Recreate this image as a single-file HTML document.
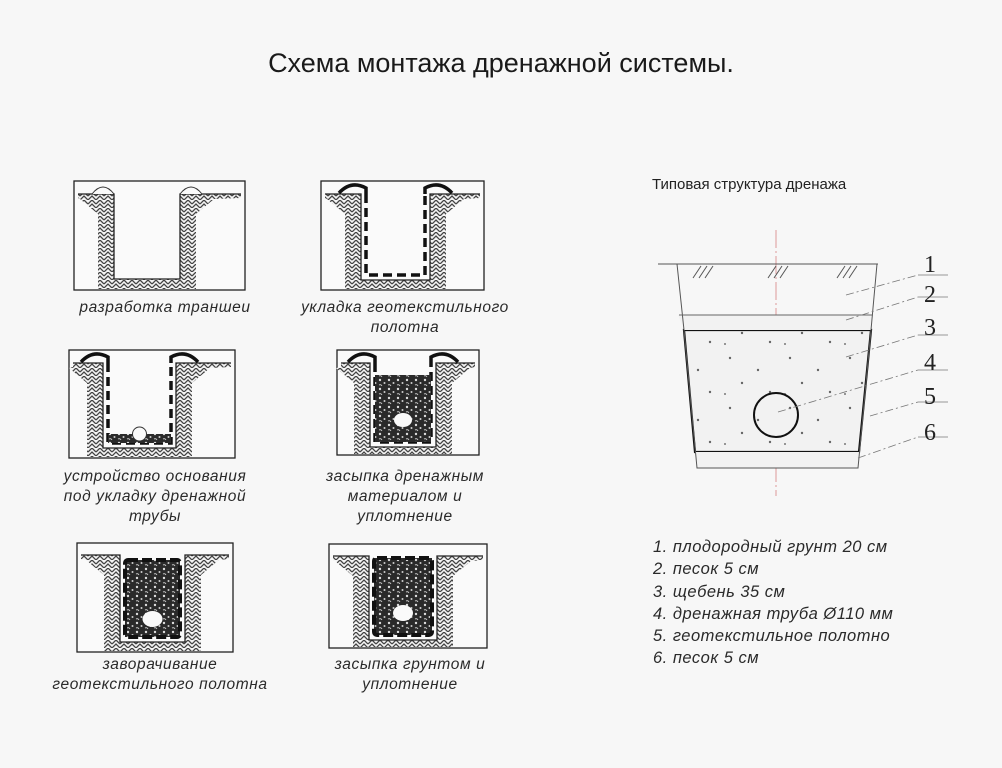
<!DOCTYPE html>
<html><head><meta charset="utf-8"><style>
html,body{margin:0;padding:0;background:#f7f7f7;}
body{width:1002px;height:768px;overflow:hidden;position:relative;font-family:"Liberation Sans",sans-serif;}
.t{position:absolute;left:0;width:1002px;top:48px;text-align:center;font-size:27px;color:#1a1a1a;}
.c{position:absolute;font-style:italic;font-size:15.5px;color:#2a2a2a;text-align:center;line-height:20px;letter-spacing:0.6px;}
.lg{position:absolute;left:653px;top:536px;font-style:italic;font-size:16.5px;color:#2a2a2a;line-height:22.3px;letter-spacing:0.5px;}
.h{position:absolute;left:652px;top:176px;font-size:15px;color:#222;}
svg{position:absolute;left:0;top:0;}
</style></head><body>
<div class="t">Схема монтажа дренажной системы.</div>
<svg id="s" width="1002" height="768" xmlns="http://www.w3.org/2000/svg">
<defs>
<pattern id="hp" width="8" height="8" patternUnits="userSpaceOnUse">
<rect width="8" height="8" fill="#f4f4f4"/><path d="M0 8 L4 4 L8 8 M0 4 L4 0 L8 4" stroke="#444" stroke-width="1.3" fill="none"/></pattern>
<pattern id="gp" width="9" height="9" patternUnits="userSpaceOnUse">
<rect width="9" height="9" fill="#2a2a2a"/><circle cx="2" cy="2" r="1.2" fill="#ddd"/><circle cx="6.5" cy="5" r="1" fill="#ccc"/><path d="M1 7 q2 -1 3 1" stroke="#ddd" fill="none" stroke-width="0.8"/></pattern>
<pattern id="dp" width="60" height="50" patternUnits="userSpaceOnUse">
<rect width="60" height="50" fill="#f2f2f2"/><circle cx="10" cy="8" r="1.2" fill="#666"/><circle cx="38" cy="20" r="1.2" fill="#666"/><circle cx="22" cy="33" r="1.2" fill="#666"/><circle cx="50" cy="42" r="1.2" fill="#666"/><circle cx="5" cy="44" r="1" fill="#777"/></pattern>
</defs>
</svg>
<div class="c" style="left:40px;top:298px;width:250px">разработка траншеи</div>
<div class="c" style="left:270px;top:298px;width:270px">укладка геотекстильного<br>полотна</div>
<div class="c" style="left:25px;top:467px;width:260px">устройство основания<br>под укладку дренажной<br>трубы</div>
<div class="c" style="left:290px;top:467px;width:230px">засыпка дренажным<br>материалом и<br>уплотнение</div>
<div class="c" style="left:20px;top:655px;width:280px">заворачивание<br>геотекстильного полотна</div>
<div class="c" style="left:300px;top:655px;width:220px">засыпка грунтом и<br>уплотнение</div>
<div class="h">Типовая структура дренажа</div>
<div class="lg">1. плодородный грунт 20 см<br>2. песок 5 см<br>3. щебень 35 см<br>4. дренажная труба Ø110 мм<br>5. геотекстильное полотно<br>6. песок 5 см</div>
<script>
var s=document.getElementById('s'),NS='http://www.w3.org/2000/svg';
function e(t,a){var n=document.createElementNS(NS,t);for(var k in a)n.setAttribute(k,a[k]);s.appendChild(n);return n;}
function P(o){var bx=o.b[0],by=o.b[1],bw=o.b[2],bh=o.b[3],g=o.g,x1=o.x1,x2=o.x2,b=o.bot;
 e('rect',{x:bx,y:by,width:bw,height:bh,fill:'#fafafa',stroke:'#222','stroke-width':1.3});
 e('polygon',{points:[bx+4,g,x1,g,x1,b,x2,b,x2,g,bx+bw-4,g,bx+bw-4,g+4,x2+34,g+5,x2+16,g+20,x2+16,b+Math.min(12,by+bh-b-1),x1-16,b+Math.min(12,by+bh-b-1),x1-16,g+20,x1-34,g+5,bx+4,g+4].join(' '),fill:'url(#hp)'});
 e('polyline',{points:[bx+4,g,x1,g,x1,b,x2,b,x2,g,bx+bw-4,g].join(' '),fill:'none',stroke:'#222','stroke-width':1.3});
 if(o.hump){e('path',{d:'M'+(x1-22)+' '+g+' Q'+(x1-11)+' '+(g-14)+' '+x1+' '+g,fill:'#fafafa',stroke:'#333','stroke-width':1});e('path',{d:'M'+x2+' '+g+' Q'+(x2+11)+' '+(g-14)+' '+(x2+22)+' '+g,fill:'#fafafa',stroke:'#333','stroke-width':1});}
 if(o.gt){var a=x1+5,c=x2-5;
  e('path',{d:'M'+(x1-22)+' '+(g-1)+' Q'+(x1-10)+' '+(g-14)+' '+a+' '+(g-6)+' L'+a+' '+g,fill:'none',stroke:'#111','stroke-width':3.5});
  e('path',{d:'M'+(x2+22)+' '+(g-1)+' Q'+(x2+10)+' '+(g-14)+' '+c+' '+(g-6)+' L'+c+' '+g,fill:'none',stroke:'#111','stroke-width':3.5});
  e('polyline',{points:[a,g,a,b-5,c,b-5,c,g].join(' '),fill:'none',stroke:'#111','stroke-width':3.5,'stroke-dasharray':'9 5'});}
 if(o.fill){var ft=o.fill;e('rect',{x:x1+5,y:ft,width:x2-x1-10,height:b-5-ft,fill:'url(#gp)'});
  if(o.wrap){e('rect',{x:x1+5,y:ft,width:x2-x1-10,height:b-5-ft,fill:'none',stroke:'#111','stroke-width':4,'stroke-dasharray':'10 4',rx:3});}
  if(o.pr)e('ellipse',{cx:(x1+x2)/2,cy:o.py,rx:o.pr,ry:o.pr-2,fill:'#fafafa'});}
 if(o.pipe){e('circle',{cx:(x1+x2)/2,cy:b-14,r:7,fill:'#fafafa',stroke:'#333','stroke-width':1});}
}
P({b:[74,181,171,109],g:194,x1:114,x2:180,bot:279,hump:1});
P({b:[321,181,163,109],g:194,x1:361,x2:430,bot:280,gt:1});
P({b:[69,350,166,108],g:363,x1:103,x2:176,bot:448,gt:1,fill:434,py:436,pr:0,pipe:1});
P({b:[337,350,142,105],g:363,x1:370,x2:436,bot:447,gt:1,fill:375,py:420,pr:9});
P({b:[77,543,156,109],g:555,x1:120,x2:185,bot:642,fill:560,wrap:1,py:619,pr:10});
P({b:[329,544,158,104],g:556,x1:369,x2:437,bot:640,fill:558,wrap:1,py:613,pr:10});
// right diagram
e('line',{x1:776,y1:230,x2:776,y2:496,stroke:'#d99',"stroke-width":1,'stroke-dasharray':'18 3 2 3'});
e('polygon',{points:'684,330 871,330 859,452 695,452',fill:'url(#dp)',stroke:'#111','stroke-width':2.2});
e('polygon',{points:'678,315 873,315 871,330 684,330',fill:'#f2f2f2'});
e('polygon',{points:'695,452 859,452 858,468 697,468',fill:'#f2f2f2'});
e('polyline',{points:'677,264 684,330 697,468 858,468 871,330 877,264',fill:'none',stroke:'#555','stroke-width':1});
e('line',{x1:658,y1:264,x2:878,y2:264,stroke:'#555','stroke-width':1});
e('line',{x1:679,y1:315,x2:873,y2:315,stroke:'#666','stroke-width':1});
[[693],[768],[837]].forEach(function(p){for(var i=0;i<3;i++)e('line',{x1:p[0]+i*6,y1:278,x2:p[0]+i*6+8,y2:266,stroke:'#555','stroke-width':1});});
e('circle',{cx:776,cy:415,r:22,fill:'none',stroke:'#111','stroke-width':2});
[[846,295,918,275,'1',262],[846,320,918,297,'2',292],[846,357,918,335,'3',325],[778,412,918,370,'4',360],[870,416,918,402,'5',394],[858,458,918,437,'6',430]].forEach(function(l){
 e('line',{x1:l[0],y1:l[1],x2:l[2],y2:l[3],stroke:'#777','stroke-width':0.8,'stroke-dasharray':'8 3 2 3'});
 e('line',{x1:l[2],y1:l[3],x2:948,y2:l[3],stroke:'#777','stroke-width':0.8});
 var t=e('text',{x:930,y:l[5]+10,'font-family':'Liberation Serif, serif','font-size':24,fill:'#222','text-anchor':'middle'});t.textContent=l[4];});
</script>
</body></html>
